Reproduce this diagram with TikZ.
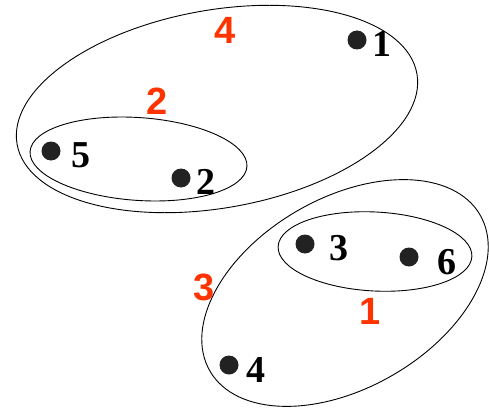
\documentclass[tikz,border=0pt]{standalone}
\usepackage{fontspec}
\setmainfont{Liberation Serif}
\newfontfamily\redfont{Liberation Sans}
\definecolor{tagred}{RGB}{255,51,0}
\definecolor{dotgray}{RGB}{34,34,34}
\tikzset{
  ring/.style={draw=black, line width=0.9pt},
  pt/.style={circle, fill=dotgray, minimum size=19pt, inner sep=0pt},
  num/.style={font=\fontsize{38}{40}\selectfont\bfseries, inner sep=0pt},
  tag/.style={font=\redfont\fontsize{38}{40}\selectfont\bfseries, text=tagred, inner sep=0pt}
}
\begin{document}
\begin{tikzpicture}[x=1pt,y=1pt]
\useasboundingbox (0,0) rectangle (489,413);
% ellipses
\draw[ring, rotate around={10:(217,304)}] (217,304) ellipse [x radius=203, y radius=99];
\draw[ring, rotate around={-4:(138.5,254)}] (138.5,254) ellipse [x radius=108.7, y radius=41.4];
\draw[ring, rotate around={30:(345,120)}] (345,120) ellipse [x radius=156, y radius=95];
\draw[ring, rotate around={-3:(375,161.5)}] (375,161.5) ellipse [x radius=97, y radius=39.5];
% points
\node[pt] (d1) at (357,373) {};
\node[pt] (d5) at (51,262) {};
\node[pt] (d2) at (181,235) {};
\node[pt] (d3) at (305,169) {};
\node[pt] (d6) at (409,156) {};
\node[pt] (d4) at (229,48) {};
% point labels
\node[num] (l1) at (382,369) {1};
\node[num] (l5) at (81,258) {5};
\node[num] (l2) at (206,231) {2};
\node[num] (l3) at (339,165) {3};
\node[num] (l6) at (447,151) {6};
\node[num] (l4) at (256,43) {4};
% cluster tags
\node[tag] (r4) at (225,383) {4};
\node[tag] (r2) at (157,312) {2};
\node[tag] (r3) at (204,126) {3};
\node[tag] (r1) at (370,102) {1};
\end{tikzpicture}
\end{document}
